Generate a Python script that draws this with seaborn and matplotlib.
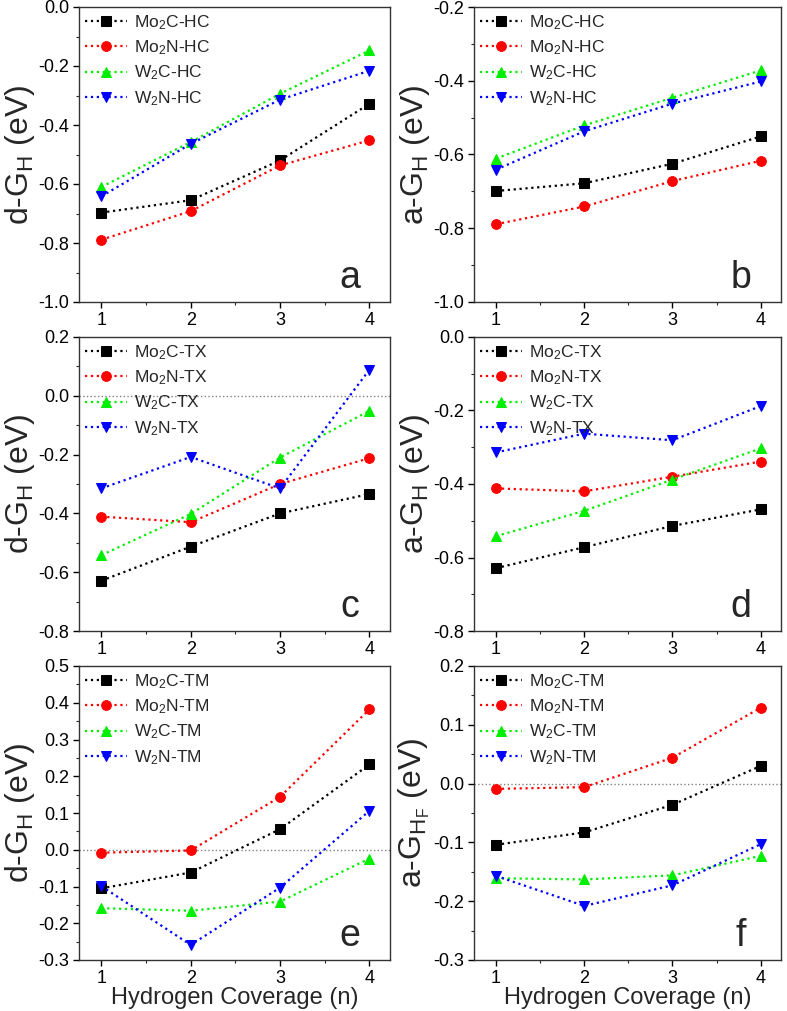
import numpy as np
import pandas as pd
import matplotlib
matplotlib.use("Agg")
import matplotlib.pyplot as plt
from matplotlib.ticker import MultipleLocator, AutoMinorLocator, FormatStrFormatter
import seaborn as sns

# hydrogen coverage n
coverage = [1, 2, 3, 4]

# panel a: d-G_H, HC
a_mo2c = [-0.697, -0.655, -0.520, -0.328]
a_mo2n = [-0.789, -0.692, -0.537, -0.452]
a_w2c = [-0.610, -0.458, -0.294, -0.147]
a_w2n = [-0.642, -0.464, -0.314, -0.216]

# panel b: a-G_H, HC
b_mo2c = [-0.699, -0.678, -0.625, -0.551]
b_mo2n = [-0.789, -0.741, -0.672, -0.617]
b_w2c = [-0.611, -0.521, -0.446, -0.372]
b_w2n = [-0.641, -0.537, -0.462, -0.402]

# panel c: d-G_H, TX
c_mo2c = [-0.629, -0.513, -0.400, -0.334]
c_mo2n = [-0.411, -0.430, -0.300, -0.212]
c_w2c = [-0.542, -0.402, -0.210, -0.051]
c_w2n = [-0.315, -0.208, -0.315, 0.089]

# panel d: a-G_H, TX
d_mo2c = [-0.629, -0.572, -0.514, -0.469]
d_mo2n = [-0.412, -0.420, -0.380, -0.339]
d_w2c = [-0.542, -0.473, -0.388, -0.303]
d_w2n = [-0.314, -0.263, -0.281, -0.188]

# panel e: d-G_H, TM
e_mo2c = [-0.105, -0.062, 0.056, 0.232]
e_mo2n = [-0.008, -0.002, 0.144, 0.382]
e_w2c = [-0.159, -0.166, -0.141, -0.024]
e_w2n = [-0.099, -0.259, -0.103, 0.106]

# panel f: a-G_HF, TM
f_mo2c = [-0.104, -0.083, -0.036, 0.030]
f_mo2n = [-0.009, -0.006, 0.044, 0.129]
f_w2c = [-0.161, -0.163, -0.156, -0.123]
f_w2n = [-0.157, -0.208, -0.173, -0.103]

materials = ["Mo$_\\mathregular{2}$C", "Mo$_\\mathregular{2}$N",
             "W$_\\mathregular{2}$C", "W$_\\mathregular{2}$N"]
colors = ["#000000", "#ff0000", "#00ee00", "#0000ff"]
markers = ["s", "o", "^", "v"]

panels = [
    ("a", "HC", [a_mo2c, a_mo2n, a_w2c, a_w2n], (-1.0, 0.0), 0.2, "d"),
    ("b", "HC", [b_mo2c, b_mo2n, b_w2c, b_w2n], (-1.0, -0.2), 0.2, "a"),
    ("c", "TX", [c_mo2c, c_mo2n, c_w2c, c_w2n], (-0.8, 0.2), 0.2, "d"),
    ("d", "TX", [d_mo2c, d_mo2n, d_w2c, d_w2n], (-0.8, 0.0), 0.2, "a"),
    ("e", "TM", [e_mo2c, e_mo2n, e_w2c, e_w2n], (-0.3, 0.5), 0.1, "d"),
    ("f", "TM", [f_mo2c, f_mo2n, f_w2c, f_w2n], (-0.3, 0.2), 0.1, "aF"),
]

sns.set_style("ticks")
plt.rcParams["font.family"] = ["Liberation Sans", "DejaVu Sans"]
plt.rcParams["axes.unicode_minus"] = False
plt.rcParams["mathtext.default"] = "regular"

fig = plt.figure(figsize=(7.87, 10.11), dpi=100)

W, H = 787.0, 1011.0
cols = [(79, 390), (474, 781)]
rows = [(7, 302), (337, 631), (666, 960)]

for i, (letter, kind, series, ylim, step, ylab) in enumerate(panels):
    r, c = divmod(i, 2)
    x0, x1 = cols[c]
    y0, y1 = rows[r]
    ax = fig.add_axes([x0 / W, 1 - y1 / H, (x1 - x0) / W, (y1 - y0) / H])

    if ylim[0] < 0 < ylim[1]:
        ax.axhline(0, color="gray", linestyle=":", linewidth=1.0, zorder=0)

    for name, vals, col, mk in zip(materials, series, colors, markers):
        df = pd.DataFrame({"n": coverage, "G": vals})
        sns.lineplot(data=df, x="n", y="G", ax=ax, color=col, marker=mk,
                     markersize=7, markeredgecolor=col, linestyle=":",
                     linewidth=1.6, label=f"{name}-{kind}")

    ax.set_xlim(0.75, 4.23)
    ax.set_ylim(*ylim)
    ax.xaxis.set_major_locator(MultipleLocator(1))
    ax.xaxis.set_minor_locator(AutoMinorLocator(2))
    ax.yaxis.set_major_locator(MultipleLocator(step))
    ax.yaxis.set_minor_locator(AutoMinorLocator(2))
    ax.yaxis.set_major_formatter(FormatStrFormatter("%.1f"))
    ax.tick_params(which="major", direction="out", length=4, width=1,
                   labelsize=13, colors="black", pad=3)
    ax.tick_params(which="minor", direction="out", length=2.5, width=0.8)
    for sp in ax.spines.values():
        sp.set_linewidth(1.0)
        sp.set_color("#333333")

    if ylab == "d":
        ax.set_ylabel("d-G$_\\mathregular{H}$ (eV)", fontsize=23, labelpad=1)
    elif ylab == "a":
        ax.set_ylabel("a-G$_\\mathregular{H}$ (eV)", fontsize=23, labelpad=1)
    else:
        ax.set_ylabel("a-G$_{\\mathregular{H}_\\mathregular{F}}$ (eV)",
                      fontsize=23, labelpad=1)

    if r == 2:
        ax.set_xlabel("Hydrogen Coverage (n)", fontsize=17, labelpad=0)
    else:
        ax.set_xlabel("")

    ax.legend(loc="upper left", frameon=False, fontsize=12.5,
              borderaxespad=0.1, borderpad=0.25, handlelength=2.4,
              handletextpad=0.4, labelspacing=0.38)

    ax.text(0.87, 0.08, letter, transform=ax.transAxes, fontsize=27,
            ha="center", va="center")

fig.savefig("out.png", dpi=100)
